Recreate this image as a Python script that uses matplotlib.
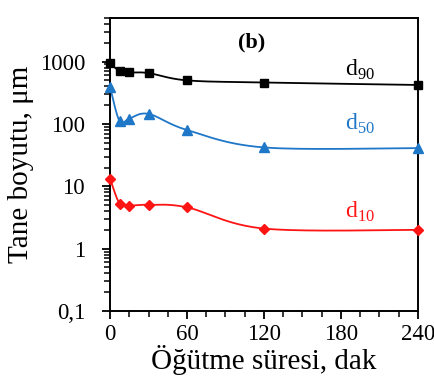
import matplotlib.pyplot as plt
import numpy as np
from matplotlib.ticker import FixedLocator, FuncFormatter, LogLocator, NullFormatter

plt.rcParams['font.family'] = ['Liberation Serif', 'DejaVu Serif']
plt.rcParams['mathtext.fontset'] = 'custom'
plt.rcParams['mathtext.rm'] = 'Liberation Serif'

# grinding time (min) and particle sizes (um)
time = [0, 7.5, 15, 30, 60, 120, 240]
d90 = [940, 705, 670, 655, 500, 462, 422]
d50 = [392, 110, 122, 145, 80, 42, 41]
d10 = [13.3, 5.25, 4.9, 5.05, 4.6, 2.1, 2.0]


def smooth(x, y, n=30):
    # Catmull-Rom curve through the points (x linear, y log), like Excel smoothed lines
    px = np.array(x, float) / 240.0 * 308
    py = np.log10(np.array(y, float)) * 62
    P = np.column_stack([px, py])
    P = np.vstack([P[0], P, P[-1]])
    out = []
    for i in range(1, len(P) - 2):
        p0, p1, p2, p3 = P[i - 1], P[i], P[i + 1], P[i + 2]
        t = np.linspace(0, 1, n)[:, None]
        c = 0.5 * ((2 * p1) + (-p0 + p2) * t + (2 * p0 - 5 * p1 + 4 * p2 - p3) * t ** 2
                   + (-p0 + 3 * p1 - 3 * p2 + p3) * t ** 3)
        out.append(c)
    c = np.vstack(out)
    return c[:, 0] / 308 * 240.0, 10 ** (c[:, 1] / 62)


fig = plt.figure(figsize=(4.34, 3.89), dpi=100)
ax = fig.add_axes([0.2535, 0.2005, 0.7095, 0.7532])

series = [
    (d90, 'black', 's', 6.0, 'd$_{90}$', 730),
    (d50, '#1F77C8', '^', 6.5, 'd$_{50}$', 101),
    (d10, '#FF1414', 'D', 5.0, 'd$_{10}$', 3.9),
]
for vals, col, mk, ms, lab, ty in series:
    sx, sy = smooth(time, vals)
    ax.plot(sx, sy, color=col, lw=1.3, zorder=2)
    ax.plot(time, vals, ls='none', marker=mk, ms=ms, color=col, zorder=3, clip_on=False)
    ax.text(195, ty, lab, color=col, fontsize=17, ha='center', va='center')

ax.text(110, 2000, '(b)', fontsize=16, fontweight='bold', ha='center', va='center')

ax.set_yscale('log')
ax.set_ylim(0.1, 5000)
ax.set_xlim(0, 240)
ax.yaxis.set_major_locator(LogLocator(base=10, numticks=10))
ax.yaxis.set_minor_locator(LogLocator(base=10, subs=np.arange(2, 10), numticks=20))
ax.yaxis.set_minor_formatter(NullFormatter())
ax.yaxis.set_major_formatter(FuncFormatter(lambda v, p: '0,1' if v < 0.5 else '%d' % v))
ax.xaxis.set_major_locator(FixedLocator([0, 60, 120, 180, 240]))
ax.xaxis.set_minor_locator(FixedLocator(np.arange(0, 241, 15)))

ax.tick_params(which='major', direction='out', length=6, width=1.3, labelsize=16.5, pad=3)
ax.tick_params(axis='y', which='major', pad=12)
ax.tick_params(which='minor', direction='out', length=4.5, width=1.1)
for s in ax.spines.values():
    s.set_linewidth(1.4)

ax.set_xlabel('Öğütme süresi, dak', fontsize=21, labelpad=0)
ax.set_ylabel('Tane boyutu, μm', fontsize=21, labelpad=4)

fig.savefig('out.png', dpi=100)
